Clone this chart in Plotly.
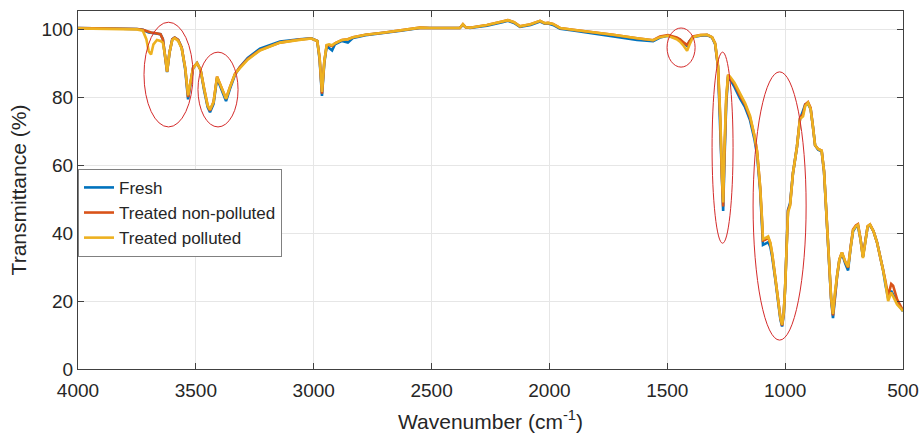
import plotly.graph_objects as go

wavenumber = [
    4000, 3900, 3800, 3750, 3725, 3710, 3700, 3690, 3680, 3665,
    3650, 3640, 3630, 3622, 3612, 3600, 3590, 3575, 3560, 3545,
    3533, 3525, 3512, 3495, 3480, 3465, 3450, 3440, 3425, 3410,
    3395, 3385, 3372, 3355, 3334, 3313, 3280, 3228, 3143, 3060,
    3010, 2985, 2975, 2965, 2955, 2945, 2935, 2922, 2910, 2880,
    2855, 2833, 2780, 2706, 2630, 2549, 2507, 2420, 2380, 2367,
    2355, 2337, 2265, 2200, 2176, 2150, 2125, 2080, 2040, 2020,
    2006, 1985, 1955, 1900, 1840, 1730, 1628, 1560, 1531, 1497,
    1460, 1446, 1430, 1416, 1405, 1391, 1360, 1331, 1310, 1297,
    1285, 1275, 1268, 1263, 1258, 1250, 1242, 1234, 1215, 1191,
    1170, 1149, 1130, 1119, 1106, 1098, 1094, 1085, 1072, 1063,
    1055, 1042, 1030, 1020, 1013, 1006, 1000, 994, 988, 979,
    967, 950, 937, 924, 915, 903, 892, 882, 873, 860,
    845, 835, 825, 818, 805, 797, 790, 780, 770, 759,
    745, 733, 722, 712, 700, 691, 680, 670, 660, 650,
    640, 625, 610, 595, 585, 575, 563, 550, 542, 525,
    504, 500,
]

fresh = [
    100.3, 100.2, 100.1, 100.0, 99.8, 99.3, 99.0, 98.9, 98.8, 98.8,
    98.5, 97.0, 92.0, 87.3, 93.0, 97.0, 97.5, 96.8, 94.5, 88.0,
    79.3, 83.0, 88.5, 90.0, 88.0, 82.0, 77.0, 75.5, 78.0, 85.5,
    83.0, 81.0, 78.8, 82.5, 86.5, 88.8, 91.5, 94.2, 96.3, 97.0,
    97.3, 96.5, 91.0, 80.3, 90.0, 95.0, 94.5, 93.7, 95.5, 96.5,
    96.0, 97.4, 98.2, 98.8, 99.5, 100.3, 100.3, 100.3, 100.3, 101.2,
    100.5, 100.3, 101.0, 102.0, 102.4, 101.8, 100.6, 101.2, 102.2, 101.6,
    101.6, 101.2, 100.1, 99.6, 99.0, 98.0, 96.8, 96.4, 97.5, 98.0,
    97.3, 96.8, 95.8, 95.0, 96.5, 97.6, 98.0, 98.2, 97.5, 95.5,
    89.0, 72.0, 55.0, 46.5, 60.0, 78.0, 86.0, 85.3, 83.0, 79.5,
    77.0, 73.2, 67.5, 63.0, 52.5, 42.5, 36.5, 36.8, 37.3, 36.0,
    33.0, 26.5, 19.0, 14.5, 12.5, 16.0, 24.0, 36.0, 46.8, 48.8,
    57.5, 65.3, 73.5, 76.0, 77.8, 78.0, 76.5, 71.2, 65.8, 64.5,
    64.0, 58.0, 45.0, 36.0, 20.5, 15.0, 21.0, 27.0, 32.0, 34.0,
    31.0, 29.0, 35.8, 40.5, 41.8, 42.0, 38.0, 33.0, 37.5, 41.8,
    42.3, 40.5, 37.2, 33.0, 29.3, 25.0, 20.8, 23.0, 22.0, 19.5,
    17.4, 17.0,
]

treated_non_polluted = [
    100.3, 100.2, 100.1, 100.0, 99.8, 99.4, 99.2, 99.0, 98.9, 98.8,
    98.5, 97.0, 92.0, 87.5, 93.0, 97.0, 97.5, 96.8, 94.5, 88.5,
    80.0, 83.0, 88.5, 90.0, 88.0, 82.5, 77.5, 76.0, 78.5, 86.0,
    83.5, 81.5, 79.5, 83.0, 86.8, 88.8, 91.2, 93.8, 96.0, 96.9,
    97.2, 96.5, 91.5, 81.0, 90.5, 95.2, 95.3, 95.0, 95.8, 96.8,
    97.0, 97.6, 98.3, 98.9, 99.6, 100.4, 100.3, 100.3, 100.3, 101.4,
    100.5, 100.4, 101.2, 102.2, 102.6, 102.0, 100.8, 101.4, 102.4, 101.7,
    101.8, 101.5, 100.3, 99.8, 99.3, 98.3, 97.3, 96.7, 97.8, 98.2,
    97.5, 97.0, 96.0, 95.3, 96.5, 97.8, 98.2, 98.3, 97.6, 95.8,
    89.0, 73.0, 56.0, 47.8, 62.0, 79.0, 86.5, 85.8, 83.8, 80.3,
    77.8, 74.0, 68.5, 64.0, 53.5, 43.5, 37.8, 38.0, 38.6, 37.0,
    33.8, 27.0, 19.5, 15.0, 12.8, 16.2, 24.0, 36.0, 46.5, 48.3,
    57.5, 65.3, 73.8, 75.0, 77.8, 78.5, 76.8, 71.2, 65.8, 64.7,
    64.2, 58.2, 45.2, 36.2, 20.8, 15.8, 21.5, 27.2, 32.2, 34.3,
    31.5, 29.8, 36.0, 41.0, 42.2, 42.6, 38.2, 33.0, 37.5, 42.0,
    42.5, 40.5, 37.2, 33.0, 29.3, 26.0, 21.5, 25.0, 24.5, 20.5,
    17.6, 17.2,
]

treated_polluted = [
    100.2, 100.1, 100.0, 99.9, 99.5, 97.0, 93.5, 92.5, 95.5, 96.8,
    96.5, 96.0, 92.0, 87.5, 93.0, 96.8, 97.3, 96.5, 94.3, 88.5,
    80.5, 83.5, 88.5, 90.0, 88.0, 82.5, 77.5, 76.3, 78.5, 86.0,
    83.5, 81.5, 79.5, 83.0, 86.8, 88.5, 91.0, 93.7, 96.0, 96.8,
    97.2, 96.5, 91.5, 81.5, 90.5, 95.3, 95.5, 95.2, 95.8, 96.8,
    97.0, 97.6, 98.3, 98.9, 99.6, 100.4, 100.3, 100.3, 100.3, 101.4,
    100.5, 100.4, 101.2, 102.2, 102.6, 102.0, 100.8, 101.4, 102.4, 101.7,
    101.8, 101.5, 100.3, 99.8, 99.3, 98.3, 97.3, 96.7, 97.6, 98.0,
    97.0, 96.3, 95.0, 93.6, 95.5, 97.6, 98.2, 98.3, 97.6, 95.8,
    89.5, 74.0, 57.0, 49.0, 64.0, 80.0, 86.5, 86.0, 84.2, 80.8,
    78.2, 74.5, 68.5, 64.0, 53.5, 44.0, 38.2, 38.5, 39.0, 37.2,
    34.0, 27.0, 19.5, 15.0, 13.0, 16.5, 24.0, 36.0, 46.0, 48.0,
    57.5, 65.3, 73.5, 74.3, 77.3, 78.3, 76.5, 71.2, 65.8, 64.7,
    64.2, 58.2, 45.2, 36.2, 21.0, 16.2, 21.8, 27.2, 32.2, 34.3,
    31.6, 30.0, 36.0, 40.8, 42.0, 42.4, 38.0, 32.6, 37.3, 42.0,
    42.5, 40.5, 37.2, 33.0, 29.3, 25.5, 20.0, 22.5, 21.5, 19.0,
    17.4, 17.0,
]

series_names = ["Fresh", "Treated non-polluted", "Treated polluted"]
series_values = [fresh, treated_non_polluted, treated_polluted]
series_colors = ["#0072BD", "#D95319", "#EDB120"]

x_ticks = [4000, 3500, 3000, 2500, 2000, 1500, 1000, 500]
y_ticks = [0, 20, 40, 60, 80, 100]

# highlighted regions (wavenumber range, transmittance range)
ellipses = [
    (3720, 3512, 71.2, 102.0),
    (3491, 3321, 71.2, 93.2),
    (1501, 1382, 88.8, 100.3),
    (1310, 1221, 37.0, 93.2),
    (1136, 911, 8.5, 87.4),
]

fig = go.Figure()
for name, vals, col in zip(series_names, series_values, series_colors):
    fig.add_trace(go.Scatter(
        x=wavenumber, y=vals, mode="lines", name=name,
        line=dict(color=col, width=2.6),
    ))

for (xa, xb, ya, yb) in ellipses:
    fig.add_shape(type="circle", xref="x", yref="y",
                  x0=xa, x1=xb, y0=ya, y1=yb,
                  line=dict(color="#D42A2A", width=1))

font_family = "Liberation Sans, Arial, sans-serif"
fig.update_layout(
    width=919, height=435,
    margin=dict(l=78, r=16, t=11, b=66),
    paper_bgcolor="white", plot_bgcolor="white",
    font=dict(family=font_family, size=19, color="#262626"),
    showlegend=True,
    legend=dict(
        x=0.0, y=0.559, xanchor="left", yanchor="top",
        bgcolor="white", bordercolor="#808080", borderwidth=1,
        font=dict(size=17, color="#262626"),
        tracegroupgap=0, itemwidth=30,
    ),
    xaxis=dict(
        range=[4000, 500], tickvals=x_ticks, automargin=False,
        ticks="inside", ticklen=6, tickcolor="#404040",
        showline=True, linecolor="#404040", linewidth=1, mirror="allticks",
        showgrid=True, gridcolor="#E6E6E6", zeroline=False,
        ticklabelstandoff=4,
        title=dict(text="Wavenumber (cm<sup>-1</sup>)", font=dict(size=21), standoff=14),
        tickfont=dict(size=19),
    ),
    yaxis=dict(
        range=[0, 105.3], tickvals=y_ticks, automargin=False,
        ticks="inside", ticklen=6, tickcolor="#404040",
        showline=True, linecolor="#404040", linewidth=1, mirror="allticks",
        showgrid=True, gridcolor="#E6E6E6", zeroline=False,
        title=dict(text="Transmittance (%)", font=dict(size=21), standoff=9),
        tickfont=dict(size=19),
    ),
)

fig.write_html("out.html")
